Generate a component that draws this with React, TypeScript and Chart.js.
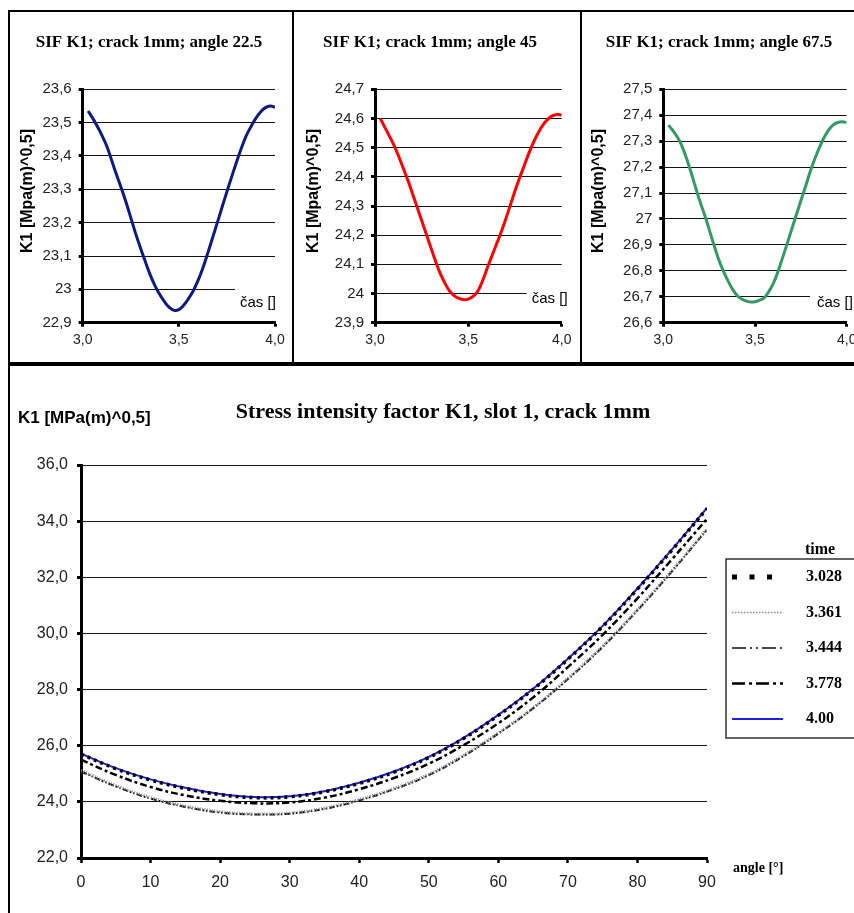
import React, { useEffect, useRef } from 'react';
import { Chart, registerables } from 'chart.js';

Chart.register(...registerables);

// ---------------- data: three small charts (K1 over time) ----------------
const topTimes = [3.028, 3.05, 3.075, 3.1, 3.125, 3.15, 3.175, 3.2, 3.225, 3.25, 3.275, 3.3, 3.325, 3.35, 3.375, 3.4, 3.425, 3.45, 3.475, 3.5, 3.525, 3.55, 3.575, 3.6, 3.625, 3.65, 3.675, 3.7, 3.725, 3.75, 3.775, 3.8, 3.825, 3.85, 3.875, 3.9, 3.925, 3.95, 3.975, 4.0];
const k1Angle225 = [23.535, 23.515, 23.49, 23.462, 23.43, 23.388, 23.345, 23.305, 23.262, 23.215, 23.168, 23.125, 23.084, 23.045, 23.012, 22.985, 22.963, 22.946, 22.937, 22.939, 22.952, 22.972, 22.996, 23.027, 23.064, 23.108, 23.154, 23.2, 23.247, 23.293, 23.338, 23.382, 23.423, 23.46, 23.488, 23.513, 23.532, 23.545, 23.55, 23.546];
const k1Angle45 = [24.6, 24.573, 24.542, 24.51, 24.473, 24.432, 24.39, 24.344, 24.297, 24.25, 24.203, 24.156, 24.11, 24.068, 24.035, 24.008, 23.992, 23.983, 23.979, 23.981, 23.99, 24.008, 24.042, 24.085, 24.127, 24.168, 24.209, 24.255, 24.303, 24.352, 24.397, 24.44, 24.482, 24.52, 24.552, 24.578, 24.597, 24.609, 24.614, 24.612];
const k1Angle675 = [27.362, 27.343, 27.318, 27.284, 27.237, 27.183, 27.124, 27.067, 27.016, 26.96, 26.902, 26.848, 26.804, 26.765, 26.732, 26.707, 26.692, 26.684, 26.68, 26.681, 26.687, 26.696, 26.72, 26.752, 26.796, 26.85, 26.904, 26.96, 27.015, 27.07, 27.124, 27.18, 27.23, 27.273, 27.312, 27.342, 27.362, 27.372, 27.375, 27.372];
const topTitles = ['SIF K1; crack 1mm; angle 22.5', 'SIF K1; crack 1mm; angle 45', 'SIF K1; crack 1mm; angle 67.5'];
const topYMin = [22.9, 23.9, 26.6];
const topYMax = [23.6, 24.7, 27.5];
const topXMin = 3.0;
const topXMax = 4.0;
const topXStep = 0.5;
const topYStep = 0.1;
const topYTitle = 'K1 [Mpa(m)^0,5]';
const topXTitle = 'čas []';

// ---------------- data: big chart (K1 over angle) ----------------
const angles = [0, 5, 10, 15, 20, 25, 30, 35, 40, 45, 50, 55, 60, 65, 70, 75, 80, 85, 90];
const k1Time3028 = [25.7, 25.18, 24.78, 24.48, 24.26, 24.15, 24.18, 24.36, 24.66, 25.06, 25.58, 26.26, 27.08, 28.01, 29.08, 30.25, 31.58, 32.98, 34.45];
const k1Time3361 = [25.12, 24.58, 24.15, 23.85, 23.65, 23.57, 23.6, 23.78, 24.08, 24.48, 24.98, 25.66, 26.46, 27.35, 28.4, 29.55, 30.85, 32.25, 33.72];
const k1Time3444 = [25.08, 24.55, 24.12, 23.82, 23.62, 23.55, 23.58, 23.75, 24.05, 24.45, 24.95, 25.63, 26.43, 27.33, 28.37, 29.52, 30.82, 32.22, 33.7];
const k1Time3778 = [25.5, 24.96, 24.53, 24.23, 24.04, 23.95, 23.98, 24.15, 24.45, 24.85, 25.36, 26.02, 26.8, 27.72, 28.8, 29.95, 31.25, 32.65, 34.08];
const k1Time400 = [25.72, 25.2, 24.8, 24.5, 24.28, 24.17, 24.2, 24.38, 24.68, 25.08, 25.6, 26.28, 27.1, 28.03, 29.1, 30.27, 31.6, 33.0, 34.47];
const timeLabels = ['3.028', '3.361', '3.444', '3.778', '4.00'];
const bottomYMin = 22;
const bottomYMax = 36;
const bottomYStep = 2;
const bottomXMin = 0;
const bottomXMax = 90;
const bottomXStep = 10;
const bottomTitle = 'Stress intensity factor K1, slot 1, crack 1mm';
const bottomYTitle = 'K1 [MPa(m)^0,5]';
const bottomXTitle = 'angle [°]';
const legendTitle = 'time';

// ---------------- styles ----------------
const SANS = "'Liberation Sans', Arial, sans-serif";
const SERIF = "'Liberation Serif', 'Times New Roman', serif";
const topColors = ['#0d1a80', '#ff0000', '#339966'];
const topValues = [k1Angle225, k1Angle45, k1Angle675];
const topGeo = [
  { canvasLeft: 10, canvasWidth: 282, plotLeft: 82.7, plotRight: 275, titleCX: 149, yTitleX: 28, casX: 240, casCY: 303, casBoxLeft: 235 },
  { canvasLeft: 294, canvasWidth: 286, plotLeft: 375, plotRight: 561.7, titleCX: 430, yTitleX: 313.3, casX: 531.7, casCY: 299, casBoxLeft: 526.7 },
  { canvasLeft: 582, canvasWidth: 300, plotLeft: 663.3, plotRight: 846.7, titleCX: 719, yTitleX: 598.3, casX: 817, casCY: 303, casBoxLeft: 810 },
];
const TOP_Y = 12;
const TOP_H = 350;

const bottomSeries = [k1Time3028, k1Time3361, k1Time3444, k1Time3778, k1Time400];
const seriesStyle = [
  { color: '#000000', width: 3.5, dash: [3, 4], legendWidth: 5, legendDash: [5, 12.5] },
  { color: '#8a8a8a', width: 3, dash: [1, 1.5], legendWidth: 1.5, legendDash: [1.5, 1.5] },
  { color: '#111111', width: 2, dash: [6, 2, 1.5, 2, 1.5, 2], legendWidth: 1.5, legendDash: [14, 4, 2, 4, 2, 4] },
  { color: '#000000', width: 2.5, dash: [7, 3, 3, 3], legendWidth: 2.5, legendDash: [13, 4, 3, 4] },
  { color: '#2020e0', width: 2, dash: [], legendWidth: 2, legendDash: [] },
];

const commaFmt = (v: number) => String(Math.round(v * 10) / 10).replace('.', ',');
const comma1 = (v: number) => v.toFixed(1).replace('.', ',');

function TopChart({ idx }: { idx: number }) {
  const ref = useRef<HTMLCanvasElement>(null);
  const geo = topGeo[idx];
  useEffect(() => {
    const canvas = ref.current!;
    const ox = geo.canvasLeft;
    const oy = TOP_Y;
    const plotL = geo.plotLeft - ox;
    const plotR = geo.plotRight - ox;
    const textPlugin = {
      id: 'topTexts' + idx,
      beforeDatasetsDraw(chart: any) {
        const ctx = chart.ctx;
        ctx.save();
        ctx.fillStyle = '#ffffff';
        ctx.fillRect(geo.casBoxLeft - ox, geo.casCY - oy - 16, 400, 29);
        ctx.fillStyle = '#000';
        ctx.font = `15px ${SANS}`;
        ctx.textAlign = 'left';
        ctx.textBaseline = 'middle';
        ctx.fillText(topXTitle, geo.casX - ox, geo.casCY - oy);
        ctx.restore();
      },
      afterDraw(chart: any) {
        const ctx = chart.ctx;
        ctx.save();
        ctx.fillStyle = '#000';
        ctx.font = `bold 17px ${SERIF}`;
        ctx.textAlign = 'center';
        ctx.textBaseline = 'middle';
        ctx.fillText(topTitles[idx], geo.titleCX - ox, 43 - oy);
        ctx.translate(geo.yTitleX - ox, 191 - oy);
        ctx.rotate(-Math.PI / 2);
        ctx.font = `bold 16px ${SANS}`;
        ctx.fillText(topYTitle, 0, 0);
        ctx.restore();
      },
    };
    const chart = new Chart(canvas, {
      type: 'line',
      data: {
        datasets: [
          {
            data: topTimes.map((t, i) => ({ x: t, y: topValues[idx][i] })),
            borderColor: topColors[idx],
            borderWidth: 3,
            pointRadius: 0,
            fill: false,
            tension: 0.4,
          },
        ],
      },
      options: {
        responsive: false,
        animation: false,
        devicePixelRatio: 1,
        layout: { padding: { left: 0, right: geo.canvasWidth - plotR, top: 89.3 - oy, bottom: TOP_H - (322.7 - oy) - 30 } },
        plugins: { legend: { display: false }, tooltip: { enabled: false }, title: { display: false } },
        scales: {
          x: {
            type: 'linear',
            min: topXMin,
            max: topXMax,
            ticks: { stepSize: topXStep, callback: (v: any) => comma1(Number(v)), font: { family: SANS, size: 14 }, color: '#222', padding: 5, maxRotation: 0 },
            grid: { drawOnChartArea: false, drawTicks: true, tickLength: 4, tickWidth: 3, tickColor: '#000' },
            border: { display: true, color: '#000', width: 3 },
            afterFit: (s: any) => { s.height = 30; },
          },
          y: {
            type: 'linear',
            min: topYMin[idx],
            max: topYMax[idx],
            ticks: { stepSize: topYStep, callback: (v: any) => commaFmt(Number(v)), font: { family: SANS, size: 15 }, color: '#222', padding: 7 },
            grid: { color: '#111', lineWidth: 1, drawTicks: true, tickLength: 4, tickWidth: 3, tickColor: '#000' },
            border: { display: true, color: '#000', width: 3 },
            afterFit: (s: any) => { s.width = plotL; },
          },
        },
      },
      plugins: [textPlugin],
    } as any);
    return () => chart.destroy();
  }, []);
  return (
    <canvas
      ref={ref}
      width={geo.canvasWidth}
      height={TOP_H}
      style={{ position: 'absolute', left: geo.canvasLeft, top: TOP_Y, width: geo.canvasWidth, height: TOP_H }}
    />
  );
}

function BottomChart() {
  const ref = useRef<HTMLCanvasElement>(null);
  const ox = 10;
  const oy = 366;
  const W = 900;
  const H = 547;
  useEffect(() => {
    const canvas = ref.current!;
    const plotL = 81 - ox;
    const plotR = 707 - ox;
    const plotT = 465 - oy;
    const plotB = 858 - oy;
    const textPlugin = {
      id: 'bottomTexts',
      afterDraw(chart: any) {
        const ctx = chart.ctx;
        ctx.save();
        ctx.fillStyle = '#000';
        ctx.textBaseline = 'middle';
        // title
        ctx.font = `bold 22px ${SERIF}`;
        ctx.textAlign = 'center';
        ctx.fillText(bottomTitle, 443 - ox, 412 - oy);
        // y title
        ctx.font = `bold 17px ${SANS}`;
        ctx.textAlign = 'left';
        ctx.fillText(bottomYTitle, 18 - ox, 418 - oy);
        // x title
        ctx.font = `bold 14px ${SERIF}`;
        ctx.fillText(bottomXTitle, 733 - ox, 868 - oy);
        // legend
        ctx.font = `bold 16px ${SERIF}`;
        ctx.fillText(legendTitle, 805 - ox, 550 - oy);
        ctx.strokeStyle = '#333';
        ctx.lineWidth = 1.5;
        ctx.strokeRect(726 - ox, 559 - oy, 300, 179);
        ctx.font = `bold 16px ${SERIF}`;
        chart.data.datasets.forEach((ds: any, i: number) => {
          const y = 577 - oy + i * 35.5;
          const st = seriesStyle[i];
          ctx.save();
          ctx.strokeStyle = st.color;
          ctx.lineWidth = st.legendWidth;
          ctx.setLineDash(st.legendDash);
          ctx.beginPath();
          ctx.moveTo(732 - ox, y);
          ctx.lineTo(783 - ox, y);
          ctx.stroke();
          ctx.restore();
          ctx.fillStyle = '#000';
          ctx.fillText(ds.label, 806 - ox, y);
        });
        ctx.restore();
      },
    };
    const chart = new Chart(canvas, {
      type: 'line',
      data: {
        datasets: bottomSeries.map((vals, i) => ({
          label: timeLabels[i],
          data: angles.map((a, j) => ({ x: a, y: vals[j] })),
          borderColor: seriesStyle[i].color,
          borderWidth: seriesStyle[i].width,
          borderDash: seriesStyle[i].dash,
          pointRadius: 0,
          fill: false,
          tension: 0.4,
        })),
      },
      options: {
        responsive: false,
        animation: false,
        devicePixelRatio: 1,
        layout: { padding: { left: 0, right: W - plotR, top: plotT, bottom: H - plotB - 40 } },
        plugins: { legend: { display: false }, tooltip: { enabled: false }, title: { display: false } },
        scales: {
          x: {
            type: 'linear',
            min: bottomXMin,
            max: bottomXMax,
            ticks: { stepSize: bottomXStep, font: { family: SANS, size: 16 }, color: '#222', padding: 10, maxRotation: 0 },
            grid: { drawOnChartArea: false, drawTicks: true, tickLength: 5, tickWidth: 2.5, tickColor: '#000' },
            border: { display: true, color: '#000', width: 3 },
            afterFit: (s: any) => { s.height = 40; },
          },
          y: {
            type: 'linear',
            min: bottomYMin,
            max: bottomYMax,
            ticks: { stepSize: bottomYStep, callback: (v: any) => comma1(Number(v)), font: { family: SANS, size: 16 }, color: '#222', padding: 9 },
            grid: { color: '#111', lineWidth: 1, drawTicks: true, tickLength: 4, tickWidth: 3, tickColor: '#000' },
            border: { display: true, color: '#000', width: 3 },
            afterFit: (s: any) => { s.width = plotL; },
          },
        },
      },
      plugins: [textPlugin],
    } as any);
    return () => chart.destroy();
  }, []);
  return (
    <canvas
      ref={ref}
      width={W}
      height={H}
      style={{ position: 'absolute', left: ox, top: oy, width: W, height: H }}
    />
  );
}

const line = (left: number, top: number, width: number, height: number) => (
  <div style={{ position: 'absolute', left, top, width, height, background: '#000' }} />
);

export default function App() {
  return (
    <div
      style={{
        position: 'fixed',
        left: 0,
        top: 0,
        width: 854,
        height: 913,
        overflow: 'hidden',
        background: '#fff',
      }}
    >
      <TopChart idx={0} />
      <TopChart idx={1} />
      <TopChart idx={2} />
      <BottomChart />
      {line(8, 10, 860, 2)}
      {line(8, 10, 2, 910)}
      {line(292, 10, 2, 354)}
      {line(580, 10, 2, 354)}
      {line(8, 362, 860, 4)}
    </div>
  );
}
